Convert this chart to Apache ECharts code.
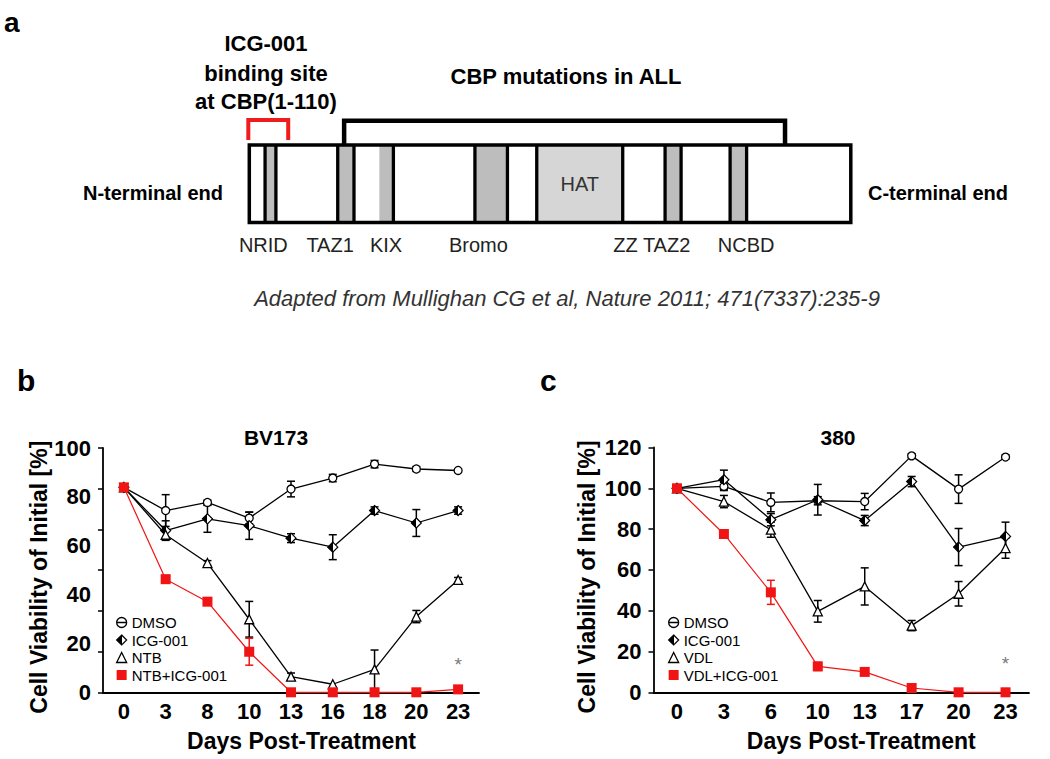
<!DOCTYPE html>
<html><head><meta charset="utf-8">
<script src="https://cdn.jsdelivr.net/npm/echarts@6/dist/echarts.min.js"></script>
<style>html,body{margin:0;padding:0;background:#fff}#chart{width:1050px;height:759px}</style>
</head><body><div id="chart"></div>
<script>
// ---------- Panel a: CBP domain map (residue units) ----------
const proteinLength = 2442;
const domainNames = ['NRID', 'TAZ1', 'KIX', 'Bromo', 'HAT', 'TAZ2', 'NCBD'];
const domainStart = [64, 359, 528, 916, 1167, 1688, 1952];
const domainEnd = [108, 425, 585, 1048, 1516, 1753, 2019];
const domainLeftBorder = [true, true, false, true, true, true, true];
const domainLabels = ['NRID', 'TAZ1', 'KIX', 'Bromo', 'ZZ TAZ2', 'NCBD'];
const domainLabelPos = [57, 328, 555, 930, 1634, 2017];
const bindingSite = [-4, 158];
const mutationRange = [385, 2175];

// ---------- Panel b: BV173 ----------
const bDays = ['0', '3', '8', '10', '13', '16', '18', '20', '23'];
const bDMSO = [83.9, 74.4, 77.7, 71.3, 83.2, 87.7, 93.4, 91.4, 90.8];
const bDMSOErr = [0, 6.5, 1, 2.4, 3.2, 1.5, 1.5, 1, 0.8];
const bICG = [83.9, 66.2, 71.0, 68.2, 63.1, 59.4, 74.4, 69.3, 74.4];
const bICGErr = [0, 4, 5.5, 5.6, 1.8, 5.1, 1.5, 5.5, 1.5];
const bNTB = [83.9, 64.5, 52.9, 29.9, 6.4, 3.3, 9.4, 31.0, 46.0];
const bNTBErr = [0, 1.5, 1, 7.3, 1.5, 0.5, 7.9, 2.5, 1];
const bCombo = [83.9, 46.3, 37.1, 16.6, 0, 0, 0, 0, 1.2];
const bComboErr = [0, 1.5, 1.5, 5.5, 0, 0, 0, 0, 0];
const bStar = [['23', 11.2]];
const bYLabelTicks = [0, 100, 20];
const bYTickMarks = [0, 120, 20];

// ---------- Panel c: 380 ----------
const cDays = ['0', '3', '6', '10', '13', '17', '20', '23'];
const cDMSO = [100, 100.9, 93.1, 93.9, 93.5, 115.9, 99.6, 115.3];
const cDMSOErr = [0, 2, 4.6, 2, 4, 1, 7, 1];
const cICG = [100, 104.2, 84.6, 94.4, 84.2, 103.3, 71.2, 76.4];
const cICGErr = [0, 4.7, 3, 7.5, 2.5, 2.5, 9.1, 7];
const cVDL = [100, 93.5, 79.7, 39.7, 51.9, 32.7, 48.3, 70.7];
const cVDLErr = [0, 3, 3.7, 5.3, 9.1, 2.5, 6, 5];
const cCombo = [100, 77.6, 49.0, 12.7, 10.0, 2.1, 0, 0];
const cComboErr = [0, 1, 5.9, 2, 1, 0.5, 0, 0];
const cStar = [['23', 14]];
const cYTicks = [0, 120, 20];

const FONT = "'Liberation Sans', Arial, Helvetica, sans-serif";
const RED = '#f01414';
const halfDiamond = {type: 'linear', x: 0, y: 0, x2: 1, y2: 0, colorStops: [
  {offset: 0, color: '#000'}, {offset: 0.5, color: '#000'},
  {offset: 0.5, color: '#fff'}, {offset: 1, color: '#fff'}]};

const chart = echarts.init(document.getElementById('chart'), null, {renderer: 'svg'});

function errorBars(color) {
  return function (params, api) {
    const e = api.value(2);
    if (!(e > 0.9)) return null;
    const x = api.value(0), v = api.value(1);
    const t = api.coord([x, v + e]), b = api.coord([x, v - e]);
    const w = 4, st = {stroke: color, lineWidth: 1.5};
    return {type: 'group', children: [
      {type: 'line', shape: {x1: t[0], y1: t[1], x2: b[0], y2: b[1]}, style: st},
      {type: 'line', shape: {x1: t[0] - w, y1: t[1], x2: t[0] + w, y2: t[1]}, style: st},
      {type: 'line', shape: {x1: b[0] - w, y1: b[1], x2: b[0] + w, y2: b[1]}, style: st}
    ]};
  };
}

function panelSeries(xi, yi, sets, star) {
  const out = [];
  sets.forEach(s => {
    out.push({
      type: 'custom', name: s.name + ' err', xAxisIndex: xi, yAxisIndex: yi, z: 2,
      renderItem: errorBars(s.line), encode: {x: 0, y: 1}, silent: true,
      data: s.values.map((v, i) => [i, v, s.errs[i]])
    });
    out.push({
      type: 'line', name: s.name, xAxisIndex: xi, yAxisIndex: yi, z: s.z,
      data: s.values, symbol: s.symbol, symbolSize: s.size, showAllSymbol: true,
      lineStyle: {color: s.line, width: s.lw}, itemStyle: s.item, animation: false
    });
  });
  out.push({
    type: 'scatter', xAxisIndex: xi, yAxisIndex: yi, data: star, symbolSize: 1,
    itemStyle: {color: 'rgba(0,0,0,0)'}, z: 6,
    label: {show: true, position: 'inside', formatter: '*', fontSize: 19, color: '#555', fontFamily: FONT}
  });
  return out;
}

const openCircle = {color: '#fff', borderColor: '#000', borderWidth: 1.3};
const halfDia = {color: halfDiamond, borderColor: '#000', borderWidth: 1.2};
const openTri = {color: '#fff', borderColor: '#000', borderWidth: 1.3};
const redSq = {color: RED, borderWidth: 0};

const seriesB = panelSeries(1, 1, [
  {name: 'DMSO', values: bDMSO, errs: bDMSOErr, symbol: 'circle', size: 8, line: '#000', lw: 1.3, item: openCircle, z: 3},
  {name: 'ICG-001', values: bICG, errs: bICGErr, symbol: 'diamond', size: 10, line: '#000', lw: 1.3, item: halfDia, z: 3},
  {name: 'NTB', values: bNTB, errs: bNTBErr, symbol: 'triangle', size: 9, line: '#000', lw: 1.3, item: openTri, z: 3},
  {name: 'NTB+ICG-001', values: bCombo, errs: bComboErr, symbol: 'rect', size: 10, line: RED, lw: 1.2, item: redSq, z: 4}
], bStar);
const seriesC = panelSeries(2, 3, [
  {name: 'DMSO', values: cDMSO, errs: cDMSOErr, symbol: 'circle', size: 8, line: '#000', lw: 1.3, item: openCircle, z: 3},
  {name: 'ICG-001', values: cICG, errs: cICGErr, symbol: 'diamond', size: 10, line: '#000', lw: 1.3, item: halfDia, z: 3},
  {name: 'VDL', values: cVDL, errs: cVDLErr, symbol: 'triangle', size: 9, line: '#000', lw: 1.3, item: openTri, z: 3},
  {name: 'VDL+ICG-001', values: cCombo, errs: cComboErr, symbol: 'rect', size: 10, line: RED, lw: 1.2, item: redSq, z: 4}
], cStar);

// Panel a series
const separators = [];
domainStart.forEach((s, i) => { if (domainLeftBorder[i]) separators.push(s); separators.push(domainEnd[i]); });

const seriesA = [
  { // domain fills
    type: 'custom', xAxisIndex: 0, yAxisIndex: 0, clip: false, silent: true, z: 1,
    data: domainStart.map((s, i) => [s, domainEnd[i]]),
    renderItem: function (params, api) {
      const i = params.dataIndex;
      const p0 = api.coord([api.value(0), 1]), p1 = api.coord([api.value(1), 0]);
      const isHat = domainNames[i] === 'HAT';
      const children = [{type: 'rect', shape: {x: p0[0], y: p0[1], width: p1[0] - p0[0], height: p1[1] - p0[1]},
        style: {fill: isHat ? '#d6d6d6' : '#bdbdbd'}}];
      if (isHat) children.push({type: 'text', x: (p0[0] + p1[0]) / 2, y: (p0[1] + p1[1]) / 2,
        style: {text: 'HAT', fontSize: 20, fontFamily: FONT, fill: '#333', align: 'center', verticalAlign: 'middle'}});
      return {type: 'group', children};
    }
  },
  { // separator lines
    type: 'custom', xAxisIndex: 0, yAxisIndex: 0, clip: false, silent: true, z: 2,
    data: separators.map(x => [x]),
    renderItem: function (params, api) {
      const a = api.coord([api.value(0), 0]), b = api.coord([api.value(0), 1]);
      return {type: 'line', shape: {x1: a[0], y1: a[1], x2: b[0], y2: b[1]}, style: {stroke: '#000', lineWidth: 3.3}};
    }
  },
  { // outer rectangle
    type: 'custom', xAxisIndex: 0, yAxisIndex: 0, clip: false, silent: true, z: 3,
    data: [[0, proteinLength]],
    renderItem: function (params, api) {
      const p0 = api.coord([api.value(0), 1]), p1 = api.coord([api.value(1), 0]);
      return {type: 'rect', shape: {x: p0[0], y: p0[1], width: p1[0] - p0[0], height: p1[1] - p0[1]},
        style: {fill: 'none', stroke: '#000', lineWidth: 3.5}};
    }
  },
  { // brackets
    type: 'custom', xAxisIndex: 0, yAxisIndex: 0, clip: false, silent: true, z: 3,
    data: [[mutationRange[0], mutationRange[1]], [bindingSite[0], bindingSite[1]]],
    renderItem: function (params, api) {
      const red = params.dataIndex === 1;
      const top = red ? 1.323 : 1.312, bot = red ? 1.064 : 1.0;
      const a = api.coord([api.value(0), bot]), b = api.coord([api.value(0), top]);
      const c = api.coord([api.value(1), top]), d = api.coord([api.value(1), bot]);
      return {type: 'polyline', shape: {points: [a, b, c, d]},
        style: {fill: 'none', stroke: red ? '#ee1c1c' : '#000', lineWidth: red ? 4 : 4.5, lineJoin: 'miter'}};
    }
  },
  { // domain labels
    type: 'custom', xAxisIndex: 0, yAxisIndex: 0, clip: false, silent: true, z: 3,
    data: domainLabelPos.map(x => [x, 0]),
    renderItem: function (params, api) {
      const p = api.coord([api.value(0), 0]);
      return {type: 'text', x: p[0], y: p[1] + 22,
        style: {text: domainLabels[params.dataIndex], fontSize: 20, fontFamily: FONT, fill: '#222', align: 'center', verticalAlign: 'middle'}};
    }
  }
];

function txt(text, x, y, size, weight, extra) {
  return Object.assign({type: 'text', x: x, y: y, silent: true,
    style: Object.assign({text: text, fontSize: size, fontWeight: weight, fontFamily: FONT, fill: '#000',
      align: 'center', verticalAlign: 'middle'}, extra && extra.style)}, extra && extra.el);
}

const axisLine = {show: true, lineStyle: {color: '#000', width: 1.8}};
const tickStyle = {color: '#000', width: 1.5};
const labStyle = {fontSize: 22, fontWeight: 'bold', color: '#000', fontFamily: FONT};
const nameStyle = {fontSize: 23, fontWeight: 'bold', color: '#000', fontFamily: FONT};

function xCat(gi, days, pad) {
  return {gridIndex: gi, type: 'category', data: days, boundaryGap: true,
    axisLine: axisLine, axisTick: {alignWithLabel: true, length: 5, lineStyle: tickStyle},
    axisLabel: Object.assign({margin: 8, interval: 0}, labStyle), splitLine: {show: false},
    name: 'Days Post-Treatment', nameLocation: 'middle', nameGap: 37,
    nameTextStyle: Object.assign({padding: [0, 0, 0, pad]}, nameStyle)};
}
const yName = {name: 'Cell Viability of Initial [%]', nameLocation: 'middle', nameRotate: 90,
  nameTextStyle: Object.assign({padding: [0, 14, 0, 0]}, nameStyle)};

const legendBase = {orient: 'vertical', itemWidth: 10, itemHeight: 10, itemGap: 2.5, padding: 0,
  selectedMode: false, textStyle: {fontSize: 15, color: '#000', fontFamily: FONT}};
const circleBarIcon = 'path://M1,5A4,4 0 1,0 9,5A4,4 0 1,0 1,5ZM1,5L9,5';
function legendData(names) {
  return [
    {name: names[0], icon: circleBarIcon, itemStyle: {color: '#fff', borderColor: '#000', borderWidth: 1.3}},
    {name: names[1], icon: 'diamond', itemStyle: {color: halfDiamond, borderColor: '#000', borderWidth: 1.2}},
    {name: names[2], icon: 'triangle', itemStyle: {color: '#fff', borderColor: '#000', borderWidth: 1.3}},
    {name: names[3], icon: 'rect', itemStyle: {color: RED, borderWidth: 0}}
  ];
}

chart.setOption({
  animation: false,
  backgroundColor: '#fff',
  textStyle: {fontFamily: FONT},
  grid: [
    {left: 249.3, top: 145, width: 601.5, height: 77.5},
    {left: 103, top: 448, width: 376, height: 244.3},
    {left: 653.5, top: 447.5, width: 375.5, height: 244.8}
  ],
  xAxis: [
    {gridIndex: 0, type: 'value', min: 0, max: proteinLength, show: false},
    xCat(1, bDays, 21),
    xCat(2, cDays, 40)
  ],
  yAxis: [
    {gridIndex: 0, type: 'value', min: 0, max: 1, show: false},
    Object.assign({gridIndex: 1, type: 'value', position: 'left', min: bYLabelTicks[0], max: bYLabelTicks[1], interval: bYLabelTicks[2],
      axisLine: axisLine, axisTick: {show: false}, axisLabel: Object.assign({margin: 12}, labStyle),
      splitLine: {show: false}, nameGap: 53}, yName),
    {gridIndex: 1, type: 'value', position: 'left', min: bYTickMarks[0], max: bYTickMarks[1], interval: bYTickMarks[2],
      axisLine: {show: false}, axisTick: {show: true, length: 5, lineStyle: tickStyle},
      axisLabel: {show: false}, splitLine: {show: false}},
    Object.assign({gridIndex: 2, type: 'value', position: 'left', min: cYTicks[0], max: cYTicks[1], interval: cYTicks[2],
      axisLine: axisLine, axisTick: {show: true, length: 5, lineStyle: tickStyle},
      axisLabel: Object.assign({margin: 12}, labStyle), splitLine: {show: false}, nameGap: 55}, yName)
  ],
  legend: [
    Object.assign({left: 116, top: 615, data: legendData(['DMSO', 'ICG-001', 'NTB', 'NTB+ICG-001'])}, legendBase),
    Object.assign({left: 668, top: 615, data: legendData(['DMSO', 'ICG-001', 'VDL', 'VDL+ICG-001'])}, legendBase)
  ],
  graphic: [
    txt('a', 4, 22, 28, 'bold', {style: {align: 'left'}}),
    txt('ICG-001', 266, 43, 22, 'bold'),
    txt('binding site', 266, 73, 22, 'bold'),
    txt('at CBP(1-110)', 266, 101, 22, 'bold'),
    txt('CBP mutations in ALL', 566, 76, 22, 'bold'),
    txt('N-terminal end', 153, 193, 20, 'bold'),
    txt('C-terminal end', 938, 193, 20, 'bold'),
    txt('Adapted from Mullighan CG et al, Nature 2011; 471(7337):235-9', 567, 298, 22, 'normal',
      {style: {fontStyle: 'italic', fill: '#333'}}),
    txt('b', 17, 380, 30, 'bold', {style: {align: 'left'}}),
    txt('c', 540, 380, 30, 'bold', {style: {align: 'left'}}),
    txt('BV173', 276, 437, 21, 'bold'),
    txt('380', 838, 437, 21, 'bold')
  ],
  series: seriesA.concat(seriesB, seriesC)
});
</script>
</body></html>
